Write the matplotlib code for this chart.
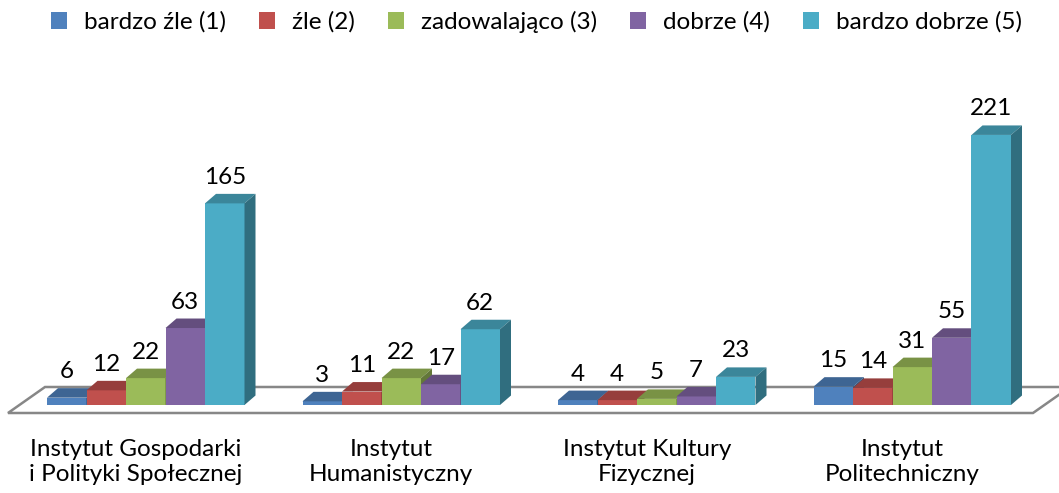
"""
3D-style grouped bar chart: ratings per institute (Excel look).
"""

import matplotlib.pyplot as plt
import numpy as np
from matplotlib.colors import to_rgb
from matplotlib.patches import Patch, Polygon

institutes = [
    "Instytut Gospodarki\ni Polityki Społecznej",
    "Instytut\nHumanistyczny",
    "Instytut Kultury\nFizycznej",
    "Instytut\nPolitechniczny",
]

grade_labels = [
    "bardzo źle (1)",
    "źle (2)",
    "zadowalająco (3)",
    "dobrze (4)",
    "bardzo dobrze (5)",
]

very_bad = [6, 3, 4, 15]
bad = [12, 11, 4, 14]
satisfactory = [22, 22, 5, 31]
good = [63, 17, 7, 55]
very_good = [165, 62, 23, 221]

series = [very_bad, bad, satisfactory, good, very_good]
grade_colors = ["#4F81BD", "#C0504D", "#9BBB59", "#8064A2", "#4BACC6"]

# pixel scale of the reference, used for the fake 3D depth
PX_PER_GROUP = 255.5
PX_PER_UNIT = 1.222
BAR_WIDTH = 39.5 / PX_PER_GROUP
DEPTH_X = 11 / PX_PER_GROUP
DEPTH_Y = 9.5 / PX_PER_UNIT


def shade(color, factor):
    r, g, b = to_rgb(color)
    return (r * factor, g * factor, b * factor)


plt.rcParams["font.family"] = ["Lato", "DejaVu Sans"]

fig = plt.figure(figsize=(10.59, 4.93), dpi=100)
ax = fig.add_axes([0, 0, 1, 1])
ax.set_xlim(-145.75 / PX_PER_GROUP, (1059 - 145.75) / PX_PER_GROUP)
ax.set_ylim((405 - 493) / PX_PER_UNIT, 405 / PX_PER_UNIT)
ax.axis("off")

# floor
floor_front = (405 - 413) / PX_PER_UNIT
floor_back = (405 - 387) / PX_PER_UNIT
floor_left = (8 - 145.75) / PX_PER_GROUP
floor_right = (1033 - 145.75) / PX_PER_GROUP
floor_shift = 37 / PX_PER_GROUP
ax.add_patch(
    Polygon(
        [
            (floor_left, floor_front),
            (floor_right, floor_front),
            (floor_right + floor_shift, floor_back),
            (floor_left + floor_shift, floor_back),
        ],
        closed=True,
        facecolor="white",
        edgecolor="#878787",
        linewidth=1.8,
        zorder=1,
    )
)

group_x = np.arange(len(institutes))
n_grades = len(series)

for j, (values, color) in enumerate(zip(series, grade_colors)):
    left = group_x - n_grades * BAR_WIDTH / 2 + j * BAR_WIDTH
    ax.bar(
        left,
        values,
        width=BAR_WIDTH,
        align="edge",
        color=color,
        linewidth=0,
        zorder=3 + j,
    )
    for x0, v in zip(left, values):
        x1 = x0 + BAR_WIDTH
        top = [
            (x0, v),
            (x1, v),
            (x1 + DEPTH_X, v + DEPTH_Y),
            (x0 + DEPTH_X, v + DEPTH_Y),
        ]
        side = [
            (x1, 0),
            (x1 + DEPTH_X, DEPTH_Y),
            (x1 + DEPTH_X, v + DEPTH_Y),
            (x1, v),
        ]
        ax.add_patch(Polygon(top, closed=True, facecolor=shade(color, 0.78),
                             linewidth=0, zorder=3 + j))
        ax.add_patch(Polygon(side, closed=True, facecolor=shade(color, 0.64),
                             linewidth=0, zorder=3 + j))
        ax.text(
            x0 + BAR_WIDTH / 2,
            v + DEPTH_Y + 16.5 / PX_PER_UNIT,
            str(v),
            ha="center",
            va="center",
            fontsize=17.5,
            color="black",
            zorder=20,
        )

for i, name in enumerate(institutes):
    ax.text(
        group_x[i] - 10 / PX_PER_GROUP,
        (405 - 462) / PX_PER_UNIT,
        name,
        ha="center",
        va="center",
        fontsize=17.5,
        linespacing=1.2,
        color="black",
    )

handles = [Patch(facecolor=c, edgecolor="none") for c in grade_colors]
fig.legend(
    handles,
    grade_labels,
    loc="center",
    bbox_to_anchor=(536.5 / 1059, 1 - 22 / 493),
    ncol=5,
    frameon=False,
    fontsize=17.5,
    handlelength=0.66,
    handleheight=0.66,
    handletextpad=0.7,
    columnspacing=1.35,
    borderpad=0,
)

fig.savefig("out.png", dpi=100)
plt.close(fig)
